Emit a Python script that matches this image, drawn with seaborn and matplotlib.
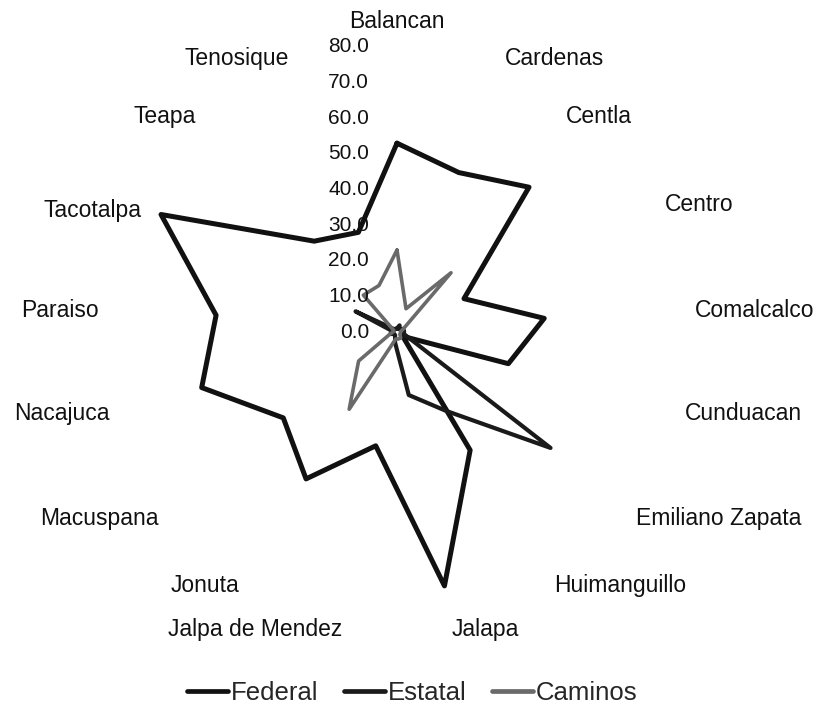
import numpy as np
import pandas as pd
import matplotlib
matplotlib.use("Agg")
import matplotlib.pyplot as plt
import matplotlib.transforms as mtransforms
from matplotlib.lines import Line2D
import seaborn as sns

categories = ["Balancan", "Cardenas", "Centla", "Centro", "Comalcalco", "Cunduacan",
              "Emiliano Zapata", "Huimanguillo", "Jalapa", "Jalpa de Mendez", "Jonuta",
              "Macuspana", "Nacajuca", "Paraiso", "Tacotalpa", "Teapa", "Tenosique"]
federal = [53, 48, 55, 21, 41.5, 32.5, 2, 39, 72.5, 32.5, 48.5, 40, 57, 51, 74, 34.5, 30]
estatal = [1, 2, 1, 2, 2, 2, 54, 26, 18, 3, 1, 1, 2, 1, 13, 1, 1]
caminos = [23, 7, 22.5, 2, 1, 1, 1, 2, 2, 2, 25.5, 13.5, 2, 1, 1, 14, 14]
series_names = ["Federal", "Estatal", "Caminos"]
r_ticks = [0, 10, 20, 30, 40, 50, 60, 70, 80]

sns.set_theme(style="white")
plt.rcParams["font.family"] = ["Liberation Sans", "DejaVu Sans"]

W, H = 813, 719
fig = plt.figure(figsize=(W / 100, H / 100), dpi=100)
cx, cy, R = 397, 332, 285
ax = fig.add_axes([(cx - R) / W, 1 - (cy + R) / H, 2 * R / W, 2 * R / H], projection="polar")
ax.set_theta_offset(np.pi / 2)
ax.set_theta_direction(-1)
ax.set_ylim(0, 80)

n = len(categories)
theta = np.arange(n) * 2 * np.pi / n

styles = {"Federal": dict(color="#111111", lw=3.6),
          "Estatal": dict(color="#1a1a1a", lw=3.0),
          "Caminos": dict(color="#6a6a6a", lw=2.6)}

for name, vals in zip(series_names, [federal, estatal, caminos]):
    df = pd.DataFrame({"theta": list(theta) + [theta[0] + 2 * np.pi],
                       "value": list(vals) + [vals[0]]})
    sns.lineplot(data=df, x="theta", y="value", sort=False, estimator=None,
                 ax=ax, color=styles[name]["color"], linewidth=styles[name]["lw"],
                 legend=False)

ax.grid(False)
ax.spines["polar"].set_visible(False)
ax.set_xticks([])
ax.set_yticks([])
ax.set_xlabel("")
ax.set_ylabel("")

# radial value labels
off = mtransforms.offset_copy(ax.transData, fig=fig, x=-28, y=0, units="dots")
for v in r_ticks:
    ax.text(0, v, f"{v:.1f}", transform=off, ha="right", va="center",
            fontsize=15, color="#111111")

# category labels (small vertical nudges in pixels, layout only)
nudge = {"Cunduacan": 0, "Nacajuca": 0, "Jonuta": 1, "Huimanguillo": 1,
         "Jalapa": -3, "Jalpa de Mendez": -3}
for ang, lab in zip(theta, categories):
    s, c = np.sin(ang), np.cos(ang)
    if c > 0.95:
        ax.text(ang, 84, lab, ha="center", va="bottom", fontsize=16.5,
                color="#111111", clip_on=False)
        continue
    ha = "left" if s > 0.05 else ("right" if s < -0.05 else "center")
    r = 84
    if lab == "Centla":
        ha = "center"
    if lab == "Tacotalpa":
        r = 80
    tr = mtransforms.offset_copy(ax.transData, fig=fig, x=0, y=nudge.get(lab, -6), units="dots")
    ax.text(ang, r, lab, ha=ha, va="center", fontsize=16.5, color="#111111",
            clip_on=False, transform=tr)

handles = [Line2D([], [], color=styles[nm]["color"], lw=3.4) for nm in series_names]
fig.legend(handles, series_names, loc="lower center", bbox_to_anchor=(0.507, -0.012),
           ncol=3, frameon=False, fontsize=18.5, handlelength=1.6, handletextpad=0.1,
           columnspacing=1.0)

fig.savefig("out.png", dpi=100, facecolor="white")
